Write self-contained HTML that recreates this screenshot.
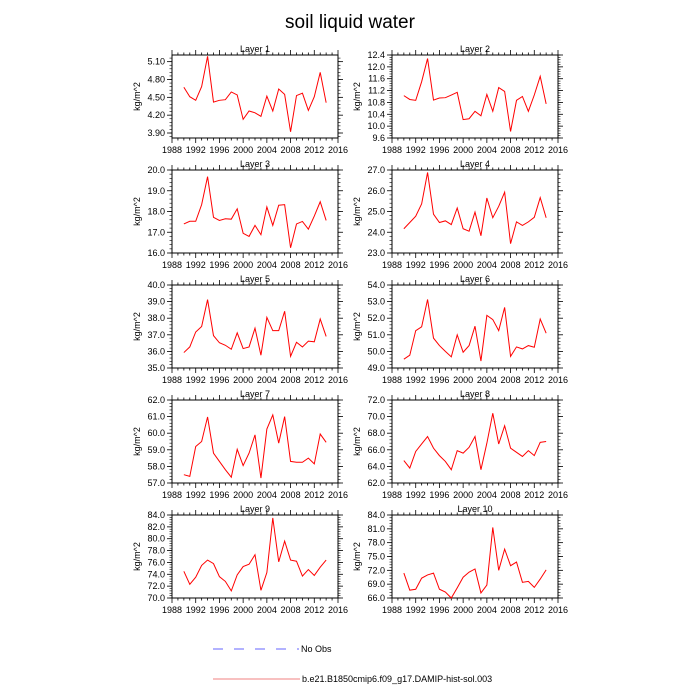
<!DOCTYPE html>
<html><head><meta charset="utf-8"><style>
body{margin:0;background:#fff;}
svg{display:block;font-family:"Liberation Sans",sans-serif;}
</style></head><body>
<svg id="c" width="700" height="700" viewBox="0 0 700 700">
<text x="350" y="28" text-anchor="middle" font-size="19">soil liquid water</text>
<g>
<line x1="213" y1="649" x2="299" y2="649" stroke="#6666ff" stroke-width="1" stroke-dasharray="10,11"/>
<text x="301" y="652" font-size="9">No Obs</text>
<line x1="213" y1="679" x2="300" y2="679" stroke="#f08080" stroke-width="1"/>
<text x="302" y="682" font-size="9">b.e21.B1850cmip6.f09_g17.DAMIP-hist-sol.003</text>
</g>
</svg>
<script>
const years = [1990,1991,1992,1993,1994,1995,1996,1997,1998,1999,2000,2001,2002,2003,2004,2005,2006,2007,2008,2009,2010,2011,2012,2013,2014];
const xTicks = [1988,1992,1996,2000,2004,2008,2012,2016];
const layer1 = [4.67,4.51,4.45,4.68,5.19,4.42,4.45,4.46,4.59,4.54,4.13,4.27,4.24,4.18,4.52,4.27,4.64,4.55,3.92,4.53,4.57,4.28,4.51,4.92,4.41];
const layer2 = [11.03,10.9,10.87,11.5,12.28,10.88,10.95,10.96,11.05,11.14,10.22,10.25,10.5,10.35,11.07,10.5,11.3,11.17,9.82,10.87,11.0,10.5,11.05,11.68,10.75];
const layer3 = [17.4,17.53,17.53,18.33,19.68,17.72,17.57,17.65,17.63,18.13,16.95,16.8,17.33,16.88,18.22,17.33,18.3,18.33,16.25,17.4,17.52,17.15,17.78,18.47,17.57];
const layer4 = [24.17,24.47,24.77,25.37,26.88,24.87,24.47,24.55,24.37,25.17,24.17,24.05,24.97,23.83,25.65,24.7,25.25,25.93,23.45,24.5,24.33,24.5,24.72,25.67,24.7];
const layer5 = [35.93,36.27,37.17,37.5,39.12,36.95,36.52,36.37,36.13,37.12,36.17,36.27,37.4,35.77,38.05,37.25,37.25,38.42,35.7,36.55,36.27,36.62,36.58,37.95,36.9];
const layer6 = [49.53,49.77,51.25,51.48,53.13,50.8,50.35,50.0,49.67,51.0,49.95,50.35,51.52,49.42,52.17,51.92,51.25,52.65,49.7,50.27,50.15,50.35,50.25,51.95,51.1];
const layer7 = [57.5,57.4,59.2,59.5,60.98,58.8,58.3,57.8,57.35,59.03,58.05,58.8,59.9,57.3,60.25,61.1,59.4,61.0,58.3,58.25,58.25,58.5,58.15,59.95,59.45];
const layer8 = [64.7,63.8,65.8,66.7,67.6,66.2,65.3,64.6,63.6,65.9,65.6,66.3,67.6,63.6,66.8,70.4,66.7,68.9,66.2,65.7,65.2,65.9,65.3,66.9,67.0];
const layer9 = [74.5,72.3,73.5,75.5,76.4,75.8,73.6,72.8,71.2,73.9,75.3,75.7,77.3,71.3,74.3,83.5,76.1,79.6,76.4,76.2,73.7,74.8,73.8,75.2,76.4];
const layer10 = [71.4,67.7,67.9,70.3,71.0,71.4,67.9,67.3,66.0,68.2,70.5,71.6,72.3,67.1,68.8,81.3,72.0,76.6,73.0,73.8,69.4,69.6,68.3,70.1,72.1];
const yTicks1 = [3.9,4.2,4.5,4.8,5.1];
const yTicks2 = [9.6,10.0,10.4,10.8,11.2,11.6,12.0,12.4];
const yTicks3 = [16,17,18,19,20];
const yTicks4 = [23,24,25,26,27];
const yTicks5 = [35,36,37,38,39,40];
const yTicks6 = [49,50,51,52,53,54];
const yTicks7 = [57,58,59,60,61,62];
const yTicks8 = [62,64,66,68,70,72];
const yTicks9 = [70,72,74,76,78,80,82,84];
const yTicks10 = [66,69,72,75,78,81,84];

const NS='http://www.w3.org/2000/svg';
const svg=document.getElementById('c');
function mk(tag,attrs,parent){const e=document.createElementNS(NS,tag);for(const k in attrs)e.setAttribute(k,attrs[k]);parent.appendChild(e);return e;}

const panels=[
 {d:layer1,t:yTicks1,lo:3.816,hi:5.212,dec:2},
 {d:layer2,t:yTicks2,lo:9.6,hi:12.4,dec:1},
 {d:layer3,t:yTicks3,lo:16,hi:20,dec:1},
 {d:layer4,t:yTicks4,lo:23,hi:27,dec:1},
 {d:layer5,t:yTicks5,lo:35,hi:40,dec:1},
 {d:layer6,t:yTicks6,lo:49,hi:54,dec:1},
 {d:layer7,t:yTicks7,lo:57,hi:62,dec:1},
 {d:layer8,t:yTicks8,lo:62,hi:72,dec:1},
 {d:layer9,t:yTicks9,lo:70,hi:84,dec:1},
 {d:layer10,t:yTicks10,lo:66,hi:84,dec:1}
];
const lefts=[172,392], W=166, H=83, tops=[55,170,285,400,515];
panels.forEach((p,i)=>{
 const L=lefts[i%2], T=tops[Math.floor(i/2)];
 const g=mk('g',{},svg);
 
 
 const xs=v=>L+(v-1988)/(2016-1988)*W;
 const ys=v=>T+H-(v-p.lo)/(p.hi-p.lo)*H;
 const tt=mk('text',{x:L+W/2,y:T-3,'text-anchor':'middle','font-size':'9'},g);
 tt.textContent='Layer '+(i+1);
 
 
 const fr=mk('rect',{x:L,y:T,width:W,height:H,fill:'none',stroke:'#000','stroke-width':'1'},g);
 
 
 // x ticks
 for(let y=1988;y<=2016;y++){
  const x=xs(y), maj=(y%4===0), len=maj?5:2.5;
  mk('line',{x1:x,y1:T+H,x2:x,y2:T+H+len,stroke:'#000','stroke-width':'0.8'},g);
  mk('line',{x1:x,y1:T,x2:x,y2:T-len,stroke:'#000','stroke-width':'0.8'},g);
 }
 xTicks.forEach(y=>{
  const lb=mk('text',{x:xs(y),y:T+H+15,'text-anchor':'middle','font-size':'9'},g);
  lb.textContent=y;
  
  
 });
 // y ticks
 const step=p.t[1]-p.t[0];
 for(let k=0;k<p.t.length;k++){
  const v=p.t[k], y=ys(v);
  mk('line',{x1:L,y1:y,x2:L-5,y2:y,stroke:'#000','stroke-width':'0.8'},g);
  mk('line',{x1:L+W,y1:y,x2:L+W+5,y2:y,stroke:'#000','stroke-width':'0.8'},g);
  const lb=mk('text',{x:L-7,y:y+3,'text-anchor':'end','font-size':'9'},g);
  lb.textContent=v.toFixed(p.dec);
  
  
 }
 for(let v=p.t[0]-step;v<=p.hi+1e-9;v+=step/5){
  if(v<p.lo-1e-9)continue;
  const y=ys(v);
  mk('line',{x1:L,y1:y,x2:L-2.5,y2:y,stroke:'#000','stroke-width':'0.6'},g);
  mk('line',{x1:L+W,y1:y,x2:L+W+2.5,y2:y,stroke:'#000','stroke-width':'0.6'},g);
 }
 const yl=mk('text',{x:0,y:0,'text-anchor':'middle','font-size':'9',transform:`translate(${L-32},${T+H/2}) rotate(-90)`},g);
 yl.textContent='kg/m^2';
 
 
 const pts=p.d.map((v,k)=>xs(years[k]).toFixed(2)+','+ys(v).toFixed(2)).join(' ');
 const ln=mk('polyline',{points:pts,fill:'none',stroke:'#ff0000','stroke-width':'1'},g);
 
 
});
</script>
</body></html>
